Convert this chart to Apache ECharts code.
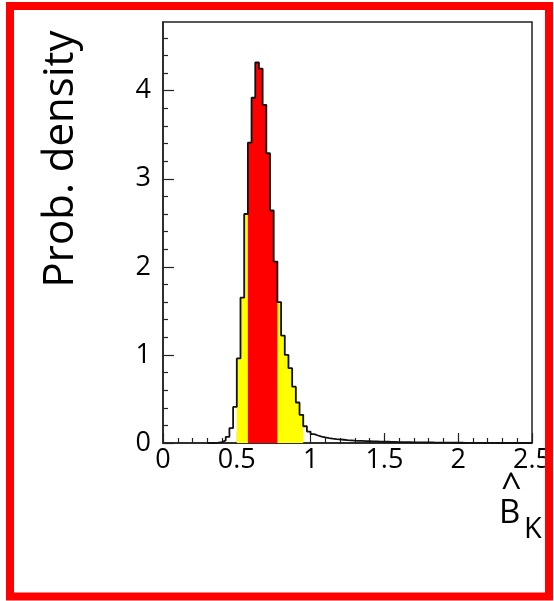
<!DOCTYPE html>
<html>
<head>
<meta charset="utf-8">
<script src="https://cdn.jsdelivr.net/npm/echarts@6/dist/echarts.min.js"></script>
<style>
html,body{margin:0;padding:0;background:#fff;}
#chart{width:554px;height:601px;}
</style>
</head>
<body>
<div id="chart"></div>
<script>
// ---- data ----
const binStart = 0.30;
const binWidth = 0.025;
const densityValues = [
  0, 0, 0.004, 0.01, 0.03, 0.07, 0.17, 0.41, 0.96, 1.65,
  2.60, 3.41, 3.92, 4.32, 4.25, 3.84, 3.29, 2.64, 2.06, 1.60,
  1.22, 1.00, 0.85, 0.64, 0.46, 0.32, 0.19, 0.13, 0.10, 0.085,
  0.072, 0.063, 0.056, 0.050, 0.045, 0.041, 0.037, 0.033, 0.030, 0.027,
  0.025, 0.023, 0.021, 0.020, 0.018, 0.017, 0.016, 0.015, 0.014, 0.013,
  0.012, 0.011, 0.010, 0.010, 0.009, 0.008, 0.008, 0.007, 0.007, 0.006,
  0.006, 0.005, 0.005, 0.004, 0.004, 0.004, 0.003, 0.003, 0.003, 0.002,
  0.002, 0.002, 0.002, 0.001, 0.001, 0.001, 0.001, 0.001, 0, 0,
  0, 0, 0, 0, 0, 0, 0, 0
];
const range68 = [0.575, 0.775];
const range95 = [0.50, 0.95];
const xTickLabels = [0, 0.5, 1, 1.5, 2, 2.5];
const yTickLabels = [0, 1, 2, 3, 4];
const yMax = 4.78;
const yTitle = 'Prob. density';
const xTitleMain = 'B';
const xTitleSub = 'K';
const xTitleHat = '^';

// ---- build ----
const edges = densityValues.map((v, i) => +(binStart + i * binWidth).toFixed(4));
const histEnd = +(binStart + densityValues.length * binWidth).toFixed(4);
function stepData(lo, hi) {
  const pts = [];
  let last = 0;
  densityValues.forEach((v, i) => {
    const x0 = edges[i];
    if (x0 >= lo - 1e-9 && x0 < hi - 1e-9) { pts.push([x0, v]); last = v; }
  });
  pts.push([hi, last]);
  return pts;
}
const outline = stepData(binStart, histEnd);
outline.push([histEnd, 0]);

const yMinorTicks = [];
for (let i = 0; i < yTickLabels[yTickLabels.length - 1] + 1; i++) {
  for (let j = 1; j < 5; j++) {
    const v = +(i + j * 0.2).toFixed(2);
    if (v < yMax) yMinorTicks.push(v);
  }
}

const FONT = 'Open Sans';
const chart = echarts.init(document.getElementById('chart'), null, {renderer: 'canvas'});
chart.setOption({
  animation: false,
  backgroundColor: '#fff',
  grid: {left: 163, top: 22, width: 379, height: 421, show: true, borderColor: '#222', borderWidth: 1.5, backgroundColor: 'transparent'},
  xAxis: {
    type: 'value', min: 0, max: 2.5, interval: 0.5,
    axisLine: {show: true, onZero: false, lineStyle: {color: '#222', width: 1.5}},
    axisTick: {show: true, inside: true, length: 10, lineStyle: {color: '#222', width: 1.2}},
    minorTick: {show: true, splitNumber: 5, length: 5, lineStyle: {color: '#222', width: 1.2}},
    axisLabel: {fontSize: 27, color: '#000', fontFamily: FONT, margin: 4,
      formatter: v => xTickLabels.some(t => Math.abs(t - v) < 1e-6) ? String(v) : ''},
    splitLine: {show: false}
  },
  yAxis: [{
    type: 'value', min: 0, max: yMax,
    axisLine: {show: true, onZero: false, lineStyle: {color: '#222', width: 1.5}},
    axisTick: {show: true, inside: true, length: 11, customValues: yTickLabels, lineStyle: {color: '#222', width: 1.2}},
    axisLabel: {customValues: yTickLabels, fontSize: 27, color: '#000', fontFamily: FONT, margin: 12},
    splitLine: {show: false}
  }, {
    type: 'value', min: 0, max: yMax, position: 'left',
    axisLine: {show: false},
    axisTick: {show: true, inside: true, length: 5, customValues: yMinorTicks, lineStyle: {color: '#222', width: 1.2}},
    axisLabel: {show: false},
    splitLine: {show: false}
  }],
  series: [
    {type: 'line', step: 'end', data: stepData(range95[0], range95[1]), symbol: 'none',
     lineStyle: {width: 0}, areaStyle: {color: '#ffff00', opacity: 1}, z: 1},
    {type: 'line', step: 'end', data: stepData(range68[0], range68[1]), symbol: 'none',
     lineStyle: {width: 0}, areaStyle: {color: '#ff0000', opacity: 1}, z: 2},
    {type: 'line', step: 'end', data: outline, symbol: 'none',
     lineStyle: {width: 1.8, color: '#111'}, z: 3}
  ],
  graphic: [
    {type: 'text', x: 61, y: 159, rotation: Math.PI / 2, z: 50,
     style: {text: yTitle, fontSize: 42, fontFamily: FONT, fill: '#000', align: 'center', verticalAlign: 'middle'}},
    {type: 'text', x: 499, y: 514, z: 50,
     style: {text: xTitleMain, fontSize: 33, fontFamily: FONT, fill: '#000', align: 'left', verticalAlign: 'middle'}},
    {type: 'text', x: 524, y: 530, z: 50,
     style: {text: xTitleSub, fontSize: 29, fontFamily: FONT, fill: '#000', align: 'left', verticalAlign: 'middle'}},
    {type: 'text', x: 501, y: 489, z: 50,
     style: {text: xTitleHat, fontSize: 36, fontFamily: FONT, fill: '#000', align: 'left', verticalAlign: 'middle'}},
    {type: 'rect', z: 100, shape: {x: 10, y: 6, width: 539, height: 590.5},
     style: {fill: 'none', stroke: '#ff0000', lineWidth: 8}}
  ]
});
</script>
</body>
</html>
